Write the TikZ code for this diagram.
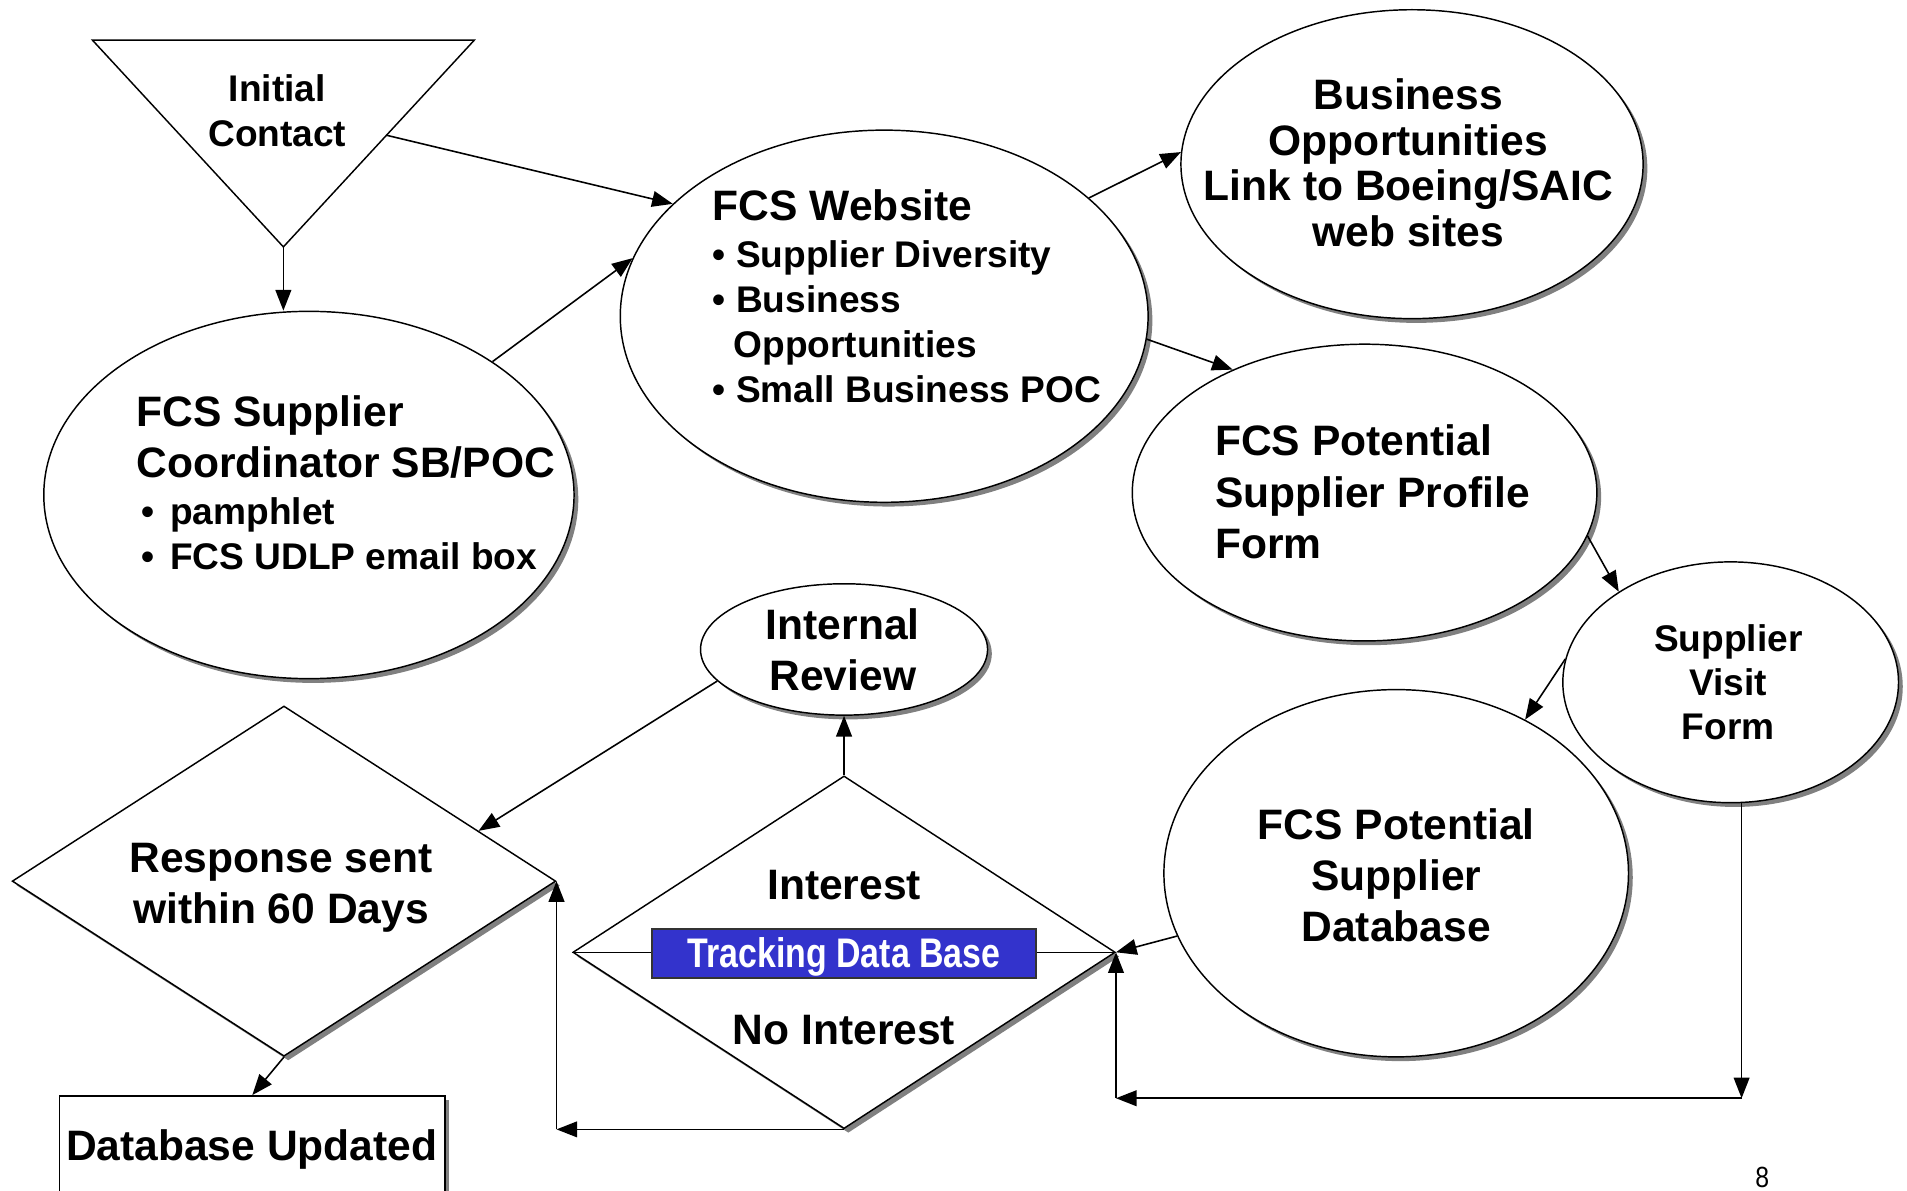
\documentclass[tikz,border=0pt]{standalone}
\usepackage{fontspec}
\setmainfont{Liberation Sans}
\usetikzlibrary{shapes.geometric, arrows.meta, shadows, calc}
\definecolor{shd}{RGB}{128,128,128}
\definecolor{tblue}{RGB}{51,51,204}
\begin{document}
\begin{tikzpicture}[x=1pt,y=-1pt,
  arr/.style={-{Triangle[length=17pt,width=13pt]}, line width=1.3pt},
  shdw/.style={drop shadow={shadow xshift=3.5pt, shadow yshift=-3.5pt, fill=shd, opacity=1}},
  oval/.style={ellipse, draw, fill=white, inner sep=0pt, line width=1.2pt, shdw},
  dmd/.style={diamond, draw, fill=white, inner sep=0pt, line width=1.2pt, shdw},
  big/.style={font=\bfseries\fontsize{35}{42}\selectfont, inner sep=0pt},
  small/.style={font=\bfseries\fontsize{30.5}{37}\selectfont, inner sep=0pt},
  leftblock/.style={anchor=north west, align=flush left, inner sep=0pt, font=\bfseries},
]
\useasboundingbox (0,0) rectangle (1568,979);
\clip (0,0) rectangle (1568,979);

% Initial contact triangle
\coordinate (triL) at (76,33);
\coordinate (triR) at (390,33);
\coordinate (triB) at (233,203);
\draw[line width=1.2pt, line join=miter] (triL) -- (triR) -- (triB) -- cycle;
\node[small, align=center] (ic) at (228,91) {Initial\\Contact};

% ovals
\node[oval, minimum width=436pt, minimum height=302pt] (sc) at (254,407) {};
\node[oval, minimum width=434pt, minimum height=306pt] (web) at (727,260) {};
\node[oval, minimum width=380pt, minimum height=254pt] (bo) at (1161,135) {};
\node[oval, minimum width=382pt, minimum height=244pt] (pf) at (1122,405) {};
\node[oval, minimum width=276pt, minimum height=198pt] (sv) at (1423,561) {};
\node[oval, minimum width=382pt, minimum height=302pt] (db) at (1148,718) {};
\node[oval, minimum width=236pt, minimum height=108pt] (ir) at (694,534) {};

% diamonds
\node[dmd, minimum width=447pt, minimum height=288pt] (resp) at (233.5,724.5) {};
\node[dmd, minimum width=446pt, minimum height=290pt] (intd) at (694,783) {};

% database updated box
\node[draw, fill=white, line width=1.2pt, inner sep=0pt, minimum width=317pt, minimum height=110pt, shdw] (du) at (207.5,956) {};

% texts
\node[leftblock, text width=420pt] (sct) at (112,325)
 {\parindent=0pt\spaceskip=0pt\xspaceskip=0pt\fontsize{35}{42}\selectfont FCS Supplier\par Coordinator SB/POC\par
  \fontsize{30.5}{39}\selectfont\hspace*{4pt}•\hspace{13pt}pamphlet\par
  \fontsize{30.5}{37}\selectfont\hspace*{4pt}•\hspace{13pt}FCS UDLP email box\par};

\node[leftblock, text width=400pt] (webt) at (586,156)
 {\parindent=0pt\spaceskip=0pt\xspaceskip=0pt\fontsize{35}{42}\selectfont FCS Website\par
  \fontsize{30.5}{38.5}\selectfont • Supplier Diversity\par
  \fontsize{30.5}{37}\selectfont • Business\par
  \hspace*{17pt}Opportunities\par
  • Small Business POC\par};

\node[font=\bfseries\fontsize{35}{37.5}\selectfont, inner sep=0pt, align=center] (bot) at (1158,134)
 {Business\\Opportunities\\Link to Boeing/SAIC\\web sites};

\node[leftblock, text width=360pt] (pft) at (999,349)
 {\parindent=0pt\spaceskip=0pt\xspaceskip=0pt\fontsize{35}{42.5}\selectfont FCS Potential\par Supplier Profile\par Form\par};

\node[font=\bfseries\fontsize{30.5}{36.5}\selectfont, inner sep=0pt, align=center] (svt) at (1421,561)
 {Supplier\\Visit\\Form};

\node[big, align=center] (dbt) at (1148,720) {FCS Potential\\Supplier\\Database};
\node[big, align=center] (irt) at (693,534) {Internal\\Review};
\node[big, align=center] (respt) at (231,730) {Response sent\\within 60 Days};
\node[big] (intt) at (694,728) {Interest};
\node[big] (nintt) at (694,847) {No Interest};
\node[big] (dut) at (207,945) {Database Updated};

% middle line of interest diamond and tracking box
\draw[line width=1.2pt] (intd.west) -- (intd.east);
\node[draw=black!80, line width=1.2pt, fill=tblue, minimum width=316pt, minimum height=40pt, inner sep=0pt] (tdb) at (694,784) {};
\node[text=white, font=\bfseries\fontsize{34}{40}\selectfont, inner sep=0pt] (tdbt) at (694,787)
 {\scalebox{0.82}[1]{Tracking Data Base}};

% page number
\node[font=\fontsize{24}{28}\selectfont, inner sep=0pt] (pg) at (1449,968) {\scalebox{0.85}[1]{8}};

% connectors
\draw[arr] (triB) -- (triB |- sc.north);
\draw[arr] ($(triR)!0.46!(triB)$) -- (web.152);
\draw[arr] (sc.36.5) -- (web.167);
\draw[arr] (web.30) -- (bo.177);
\draw[arr] (web.-5) -- (pf.137);
\draw[arr] (pf.-11.5) -- (sv.141);
\draw[arr] (sv.172.5) -- (db.50.6);
\draw[arr] (db.196) -- (intd.east);
\coordinate (c1) at (1432,903);
\coordinate (c2) at (intd.east |- c1);
\draw[arr] (sv.south -| c1) -- (c1);
\draw[arr] (c1) -- (c2);
\draw[arr] (c2) -- (intd.east);
\draw[arr] (intd.north) -- (ir.south);
\draw[arr] (ir.194) -- ($(resp.north)!0.714!(resp.east)$);
\coordinate (c3) at (resp.east |- intd.south);
\draw[arr] (intd.south) -- (c3);
\draw[arr] (c3) -- (resp.east);
\draw[arr] (resp.south) -- (du.north);
\end{tikzpicture}
\end{document}
